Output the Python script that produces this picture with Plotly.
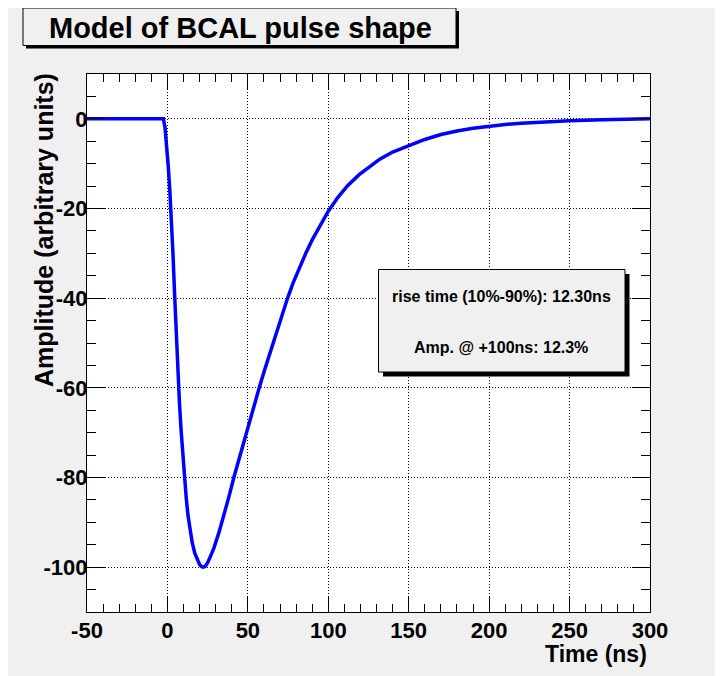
import plotly.graph_objects as go

# ---- data ----
time_ns = [-50, -2.5, -1.5, -0.5, 0.5, 1.5, 2.5, 3.5, 4.5, 5.5, 6.5, 7.5, 8.5, 9.5, 10.6,
           11.7, 12.8, 14.0, 15.4, 17.0, 18.5, 20.0, 21.3, 22.3, 23.5, 25.0, 26.5, 28.8,
           32.0, 35.1, 38.0, 41.3, 44.5, 47.5, 51.0, 54.0, 57.2, 60.5, 64.0, 67.5, 71.0,
           74.5, 78.0, 82.0, 86.0, 90.0, 95.0, 100.0, 106.0, 112.0, 119.0, 125.0, 132.0,
           140.0, 150.0, 160.0, 170.0, 180.0, 190.0, 200.0, 210.0, 220.0, 235.0, 250.0,
           270.0, 285.0, 300.0]
amplitude = [0.0, 0.0, -2.0, -5.5, -10.5, -16.0, -22.5, -30.5, -39.5, -48.5, -56.5, -63.5, -69.5, -75.0, -80.0,
             -84.6, -88.5, -91.8, -94.5, -96.9, -98.4, -99.4, -99.9, -100.0, -99.8, -99.0, -97.8, -95.8,
             -92.3, -88.5, -84.6, -80.0, -75.8, -71.9, -67.4, -63.6, -59.8, -55.9, -51.9, -48.0, -44.1,
             -40.2, -36.7, -33.2, -30.0, -27.0, -23.6, -20.6, -17.5, -14.9, -12.5, -10.8, -9.0,
             -7.4, -5.9, -4.6, -3.5, -2.7, -2.1, -1.6, -1.25, -1.0, -0.7, -0.45,
             -0.2, -0.08, 0.0]

x_tickvals = [-50, 0, 50, 100, 150, 200, 250, 300]
x_ticktext = ["-50", "0", "50", "100", "150", "200", "250", "300"]
y_tickvals = [0, -20, -40, -60, -80, -100]
y_ticktext = ["0", "-20", "-40", "-60", "-80", "-100"]

title_text = "Model of BCAL pulse shape"
x_title = "Time (ns)"
y_title = "Amplitude (arbitrary units)"
stats_lines = ["rise time (10%-90%): 12.30ns", "Amp. @ +100ns: 12.3%"]

# page is 723x676; the browser body keeps an 8px margin at left/top
OFF = 8
PAGE_W, PAGE_H = 723, 676
W, H = PAGE_W - OFF, PAGE_H - OFF
L, R, T, B = 87, 650, 74, 612  # plot frame in page pixels


def px(x):
    return (x - L) / (R - L)


def py(y):
    return (B - y) / (B - T)


FONT = "Liberation Sans"
BG = "#f0f0f0"

fig = go.Figure()
fig.add_trace(go.Scatter(x=time_ns, y=amplitude, mode="lines",
                         line=dict(color="#0000ff", width=3.5),
                         hoverinfo="skip", showlegend=False))

axis_common = dict(
    showline=True, linecolor="black", linewidth=1, mirror="ticks",
    ticks="inside", tickcolor="black", tickwidth=1, tickmode="array",
    showgrid=True, gridcolor="black", griddash="1px,2px", gridwidth=1,
    zeroline=False,
    tickfont=dict(family=FONT, size=22, color="black", weight="bold"),
)

fig.update_xaxes(range=[-50, 300], tickvals=x_tickvals, ticktext=x_ticktext, ticklen=15,
                 minor=dict(tickmode="linear", tick0=0, dtick=10, ticklen=8, ticks="inside",
                            tickcolor="black", showgrid=False),
                 ticklabelstandoff=-1,
                 **axis_common)
fig.update_yaxes(range=[-110, 10], tickvals=y_tickvals, ticktext=y_ticktext, ticklen=18,
                 minor=dict(tickmode="linear", tick0=0, dtick=5, ticklen=9, ticks="inside",
                            tickcolor="black", showgrid=False),
                 ticklabelstandoff=-6,
                 **axis_common)

shapes = []
# title box shadow + box
shapes.append(dict(type="rect", xref="paper", yref="paper",
                   x0=px(26), x1=px(459), y0=py(11), y1=py(48.5),
                   fillcolor="black", line=dict(width=0), layer="above"))
shapes.append(dict(type="rect", xref="paper", yref="paper",
                   x0=px(23), x1=px(456), y0=py(8), y1=py(45.5),
                   fillcolor=BG, line=dict(color="black", width=1), layer="above"))
# stats box shadow + box
shapes.append(dict(type="rect", xref="paper", yref="paper",
                   x0=px(383), x1=px(629.5), y0=py(274), y1=py(376.5),
                   fillcolor="black", line=dict(width=0), layer="above"))
shapes.append(dict(type="rect", xref="paper", yref="paper",
                   x0=px(378.5), x1=px(625), y0=py(269.5), y1=py(372),
                   fillcolor=BG, line=dict(color="black", width=1), layer="above"))
# canvas right border
shapes.append(dict(type="line", xref="paper", yref="paper",
                   x0=px(718.5), x1=px(718.5), y0=py(OFF), y1=py(PAGE_H),
                   line=dict(color="#c8c8c8", width=2), layer="above"))

annotations = [
    dict(text=title_text, xref="paper", yref="paper", x=px(240), y=py(27.5),
         xanchor="center", yanchor="middle", showarrow=False,
         font=dict(family=FONT, size=29, color="black", weight="bold")),
    dict(text=stats_lines[0], xref="paper", yref="paper", x=px(501), y=py(296),
         xanchor="center", yanchor="middle", showarrow=False,
         font=dict(family=FONT, size=16, color="black", weight="bold")),
    dict(text=stats_lines[1], xref="paper", yref="paper", x=px(501), y=py(347),
         xanchor="center", yanchor="middle", showarrow=False,
         font=dict(family=FONT, size=16, color="black", weight="bold")),
    dict(text=x_title, xref="paper", yref="paper", x=px(649), y=py(654),
         xanchor="right", yanchor="middle", showarrow=False,
         font=dict(family=FONT, size=23, color="black", weight="bold")),
    dict(text=y_title, xref="paper", yref="paper", x=px(44), y=py(230),
         xanchor="center", yanchor="middle", textangle=-90, showarrow=False,
         font=dict(family=FONT, size=25, color="black", weight="bold")),
]

fig.update_layout(
    width=W, height=H,
    margin=dict(l=L - OFF, r=PAGE_W - R, t=T - OFF, b=PAGE_H - B, pad=0),
    paper_bgcolor=BG, plot_bgcolor="white",
    shapes=shapes, annotations=annotations,
    showlegend=False,
)

fig.write_html("out.html")
